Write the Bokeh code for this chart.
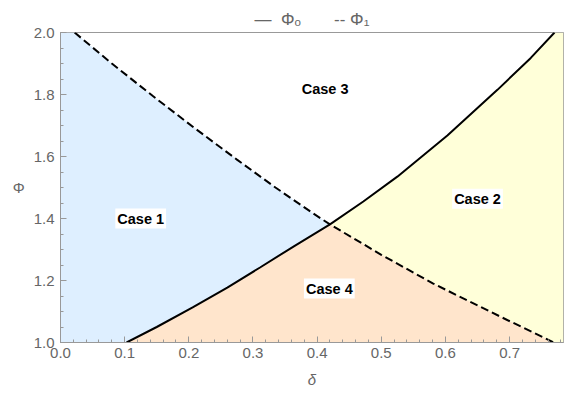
from bokeh.plotting import figure
from bokeh.models import (Range1d, SingleIntervalTicker, Label, PrintfTickFormatter)
from bokeh.embed import file_html
from bokeh.resources import INLINE

# ---- data ----
x_min, x_max = 0.0, 0.784
y_min, y_max = 1.0, 2.0

# Phi_o (solid)
solid_delta = [0.103, 0.15, 0.206, 0.26, 0.311, 0.365, 0.42, 0.472, 0.525, 0.603, 0.681, 0.733, 0.77]
solid_phi = [1.0, 1.05, 1.113, 1.177, 1.242, 1.312, 1.381, 1.455, 1.535, 1.668, 1.815, 1.918, 2.0]

# Phi_1 (dashed)
dashed_delta = [0.022, 0.08, 0.144, 0.21, 0.275, 0.335, 0.394, 0.42, 0.5, 0.581, 0.686, 0.769]
dashed_phi = [2.0, 1.900, 1.795, 1.690, 1.590, 1.500, 1.416, 1.381, 1.283, 1.190, 1.083, 1.0]

case_text = ["Case 1", "Case 2", "Case 3", "Case 4"]
case_delta = [0.125, 0.650, 0.4125, 0.419]
case_phi = [1.40, 1.464, 1.819, 1.174]

legend_text = "\u2014\u00a0\u00a0\u03a6\u2092\u00a0\u00a0\u00a0\u00a0\u00a0\u00a0\u00a0--\u00a0\u03a6\u2081"

# ---- region polygons built from the curves ----
i_s = solid_delta.index(0.42)
i_d = dashed_delta.index(0.42)

blue_x = [x_min] + dashed_delta[:i_d + 1] + solid_delta[:i_s + 1][::-1] + [x_min]
blue_y = [y_max] + dashed_phi[:i_d + 1] + solid_phi[:i_s + 1][::-1] + [y_min]

yellow_x = solid_delta[i_s:] + [x_max, x_max] + dashed_delta[i_d:][::-1]
yellow_y = solid_phi[i_s:] + [y_max, y_min] + dashed_phi[i_d:][::-1]

orange_x = solid_delta[:i_s + 1] + dashed_delta[i_d + 1:]
orange_y = solid_phi[:i_s + 1] + dashed_phi[i_d + 1:]

p = figure(frame_width=503, frame_height=310, output_backend="svg", toolbar_location=None,
           x_range=Range1d(x_min, x_max), y_range=Range1d(y_min, y_max),
           min_border_left=60, min_border_right=8, min_border_top=32, min_border_bottom=50)

p.patch(blue_x, blue_y, fill_color="#DEEFFF", line_color=None)
p.patch(yellow_x, yellow_y, fill_color="#FFFFD9", line_color=None)
p.patch(orange_x, orange_y, fill_color="#FFE5CC", line_color=None)

p.line(solid_delta, solid_phi, line_color="black", line_width=2)
p.line(dashed_delta, dashed_phi, line_color="black", line_width=2, line_dash="8 4")

for t, cx, cy in zip(case_text, case_delta, case_phi):
    p.add_layout(Label(x=cx, y=cy, text=t, text_align="center",
                       text_baseline="middle", text_font="Liberation Sans",
                       text_font_style="bold", text_font_size="14.5px", text_color="black",
                       background_fill_color="white", padding=2))

p.title.text = legend_text
p.title.align = "center"
p.title.text_font = "Liberation Sans"
p.title.text_font_style = "normal"
p.title.text_font_size = "17px"
p.title.text_color = "#666666"
p.title.standoff = 8

p.xaxis.ticker = SingleIntervalTicker(interval=0.1, num_minor_ticks=5)
p.yaxis.ticker = SingleIntervalTicker(interval=0.2, num_minor_ticks=4)
p.xaxis.formatter = PrintfTickFormatter(format="%.1f")
p.yaxis.formatter = PrintfTickFormatter(format="%.1f")

for ax in (p.xaxis[0], p.yaxis[0]):
    ax.axis_line_color = "#999999"
    ax.major_tick_line_color = "#999999"
    ax.minor_tick_line_color = "#999999"
    ax.major_tick_in = 6
    ax.major_tick_out = 0
    ax.minor_tick_in = 3
    ax.minor_tick_out = 0
    ax.major_label_text_font = "Liberation Sans"
    ax.major_label_text_font_size = "15px"
    ax.major_label_text_color = "#666666"
    ax.axis_label_text_font = "Liberation Sans"
    ax.axis_label_text_font_size = "15px"
    ax.axis_label_text_color = "#666666"
    ax.axis_label_text_font_style = "italic"

p.xaxis.axis_label = "\u03b4"
p.xaxis.major_label_standoff = 5
p.xaxis.axis_label_standoff = 10
p.yaxis.axis_label = "\u03a6"
p.yaxis.axis_label_text_font_style = "normal"
p.yaxis.axis_label_orientation = "horizontal"
p.yaxis.major_label_standoff = 6
p.yaxis.axis_label_standoff = 6

p.xgrid.visible = False
p.ygrid.visible = False
p.outline_line_color = "#999999"
p.background_fill_color = "white"
p.border_fill_color = "white"

open("out.html", "w").write(file_html(p, INLINE))
